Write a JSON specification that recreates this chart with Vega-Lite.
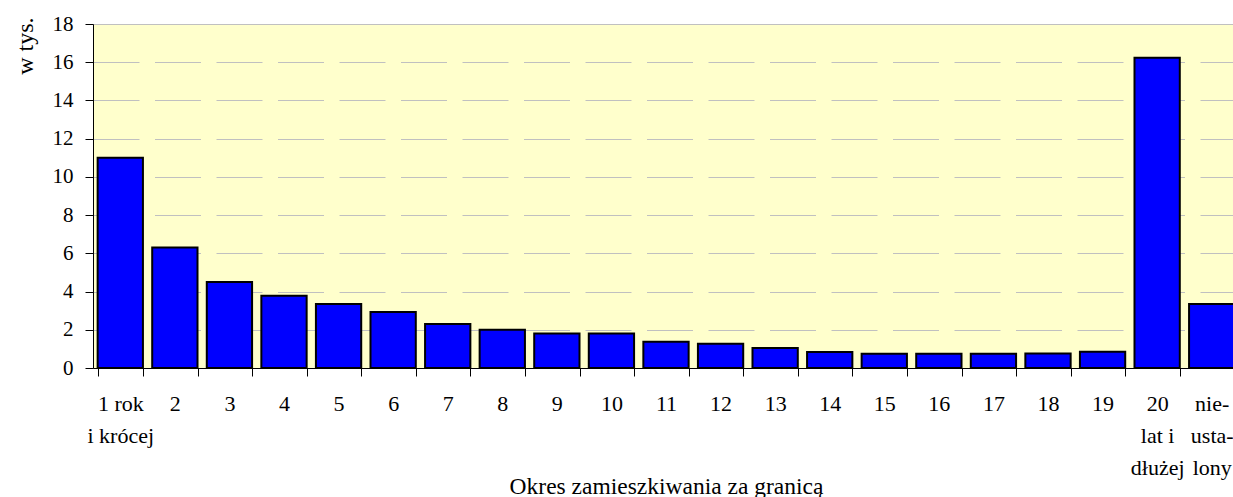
{
  "$schema": "https://vega.github.io/schema/vega-lite/v6.json",
  "width": 1140,
  "height": 344,
  "autosize": "none",
  "padding": {"left": 93, "top": 24, "right": 0, "bottom": 129},
  "background": "white",
  "config": {
    "view": {"fill": "#FFFFCC", "stroke": "#C0C0C0"},
    "font": "Liberation Serif"
  },
  "data": {
    "values": [
      {"okres": "1 rok|i krócej", "wartosc": 11.0},
      {"okres": "2", "wartosc": 6.3},
      {"okres": "3", "wartosc": 4.5},
      {"okres": "4", "wartosc": 3.78},
      {"okres": "5", "wartosc": 3.35},
      {"okres": "6", "wartosc": 2.93},
      {"okres": "7", "wartosc": 2.3},
      {"okres": "8", "wartosc": 2.0},
      {"okres": "9", "wartosc": 1.8},
      {"okres": "10", "wartosc": 1.8},
      {"okres": "11", "wartosc": 1.38},
      {"okres": "12", "wartosc": 1.27},
      {"okres": "13", "wartosc": 1.05},
      {"okres": "14", "wartosc": 0.84},
      {"okres": "15", "wartosc": 0.74},
      {"okres": "16", "wartosc": 0.74},
      {"okres": "17", "wartosc": 0.74},
      {"okres": "18", "wartosc": 0.76},
      {"okres": "19", "wartosc": 0.85},
      {"okres": "20|lat i|dłużej", "wartosc": 16.24},
      {"okres": "nie-|usta-|lony", "wartosc": 3.35}
    ]
  },
  "mark": {"type": "bar", "fill": "#0000FF", "stroke": "black", "strokeWidth": 2},
  "encoding": {
    "x": {
      "field": "okres",
      "type": "nominal",
      "sort": null,
      "scale": {"range": [0, 1146], "paddingInner": 0.17, "paddingOuter": 0.085},
      "axis": {
        "title": "Okres zamieszkiwania za granicą",
        "labelAngle": 0,
        "labelExpr": "isValid(datum.value) ? split(datum.value, '|') : ''",
        "tickBand": "extent",
        "tickSize": 8,
        "tickColor": "black",
        "domainColor": "black",
        "labelFont": "Liberation Serif",
        "labelFontSize": 22,
        "labelColor": "black",
        "labelPadding": 17,
        "labelLineHeight": 32,
        "labelBaseline": "top",
        "labelOverlap": false,
        "labelLimit": 0,
        "titleFont": "Liberation Serif",
        "titleFontSize": 23.5,
        "titleFontWeight": "normal",
        "titleColor": "black",
        "titleY": 125,
        "titleBaseline": "alphabetic"
      }
    },
    "y": {
      "field": "wartosc",
      "type": "quantitative",
      "scale": {"domain": [0, 18], "nice": false},
      "axis": {
        "title": "w tys.",
        "values": [0, 2, 4, 6, 8, 10, 12, 14, 16, 18],
        "grid": true,
        "gridColor": "#C0C0C0",
        "gridDash": [46, 15.5],
        "tickSize": 8,
        "tickColor": "black",
        "domainColor": "black",
        "labelFont": "Liberation Serif",
        "labelFontSize": 21,
        "labelColor": "black",
        "labelPadding": 12,
        "titleFont": "Liberation Serif",
        "titleFontSize": 24,
        "titleFontWeight": "normal",
        "titleColor": "black",
        "titleAngle": -90,
        "titleX": -61,
        "titleY": -7,
        "titleAlign": "right",
        "titleAnchor": null,
        "titleBaseline": "alphabetic"
      }
    }
  }
}
